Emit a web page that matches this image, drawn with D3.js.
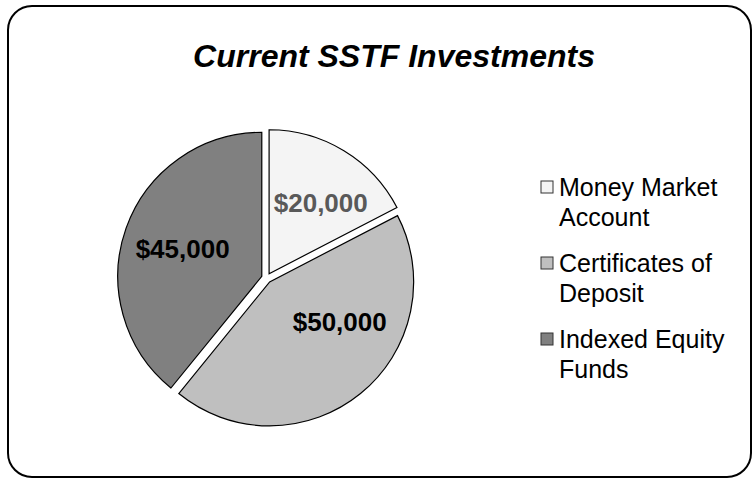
<!DOCTYPE html>
<html lang="en">
  <head>
    <meta charset="utf-8">
    <title>Current SSTF Investments</title>
    <style>
      body { margin: 0; background: #fff; }
      svg { display: block; font-family: "Liberation Sans", Arial, sans-serif; }
    </style>
  </head>
  <body>
    <script src="https://d3js.org/d3.v7.min.js"></script>
    <script>
    // chart data
    const categories = ["Money Market Account", "Certificates of Deposit", "Indexed Equity Funds"]
    const amounts = [20000, 50000, 45000]
    const legendLines = [["Money Market", "Account"], ["Certificates of", "Deposit"], ["Indexed Equity", "Funds"]]
    const fills = ["#f4f4f4", "#bfbfbf", "#808080"]
    const labelColors = ["#595959", "#000", "#000"]

    const w = 752
    const h = 479
    const cx = 266.5, cy = 278   // pie centre
    const r = 144
    const explode = 5

    const svg = d3.select("body").append("svg")
      .attr("width", w)
      .attr("height", h)

    // outer frame
    svg.append("rect")
      .attr("x", 8).attr("y", 6)
      .attr("width", 743).attr("height", 471)
      .attr("rx", 24)
      .attr("fill", "#fff")
      .attr("stroke", "#000")
      .attr("stroke-width", 2)

    svg.append("text")
      .attr("x", 394).attr("y", 67)
      .attr("text-anchor", "middle")
      .style("font-size", "32px")
      .style("font-weight", "bold")
      .style("font-style", "italic")
      .text("Current SSTF Investments")

    const data = categories.map((c, i) => ({ name: c, value: amounts[i], i }))

    const pie = d3.pie().sort(null).value(d => d.value)
    const arcs = pie(data)
    const arc = d3.arc().innerRadius(0).outerRadius(r)

    // label placement within each slice (fraction of the slice angle, distance from centre)
    const labelPos = [[0.57, 93], [0.37, 85], [0.5, 89]]

    const slices = svg.append("g")
      .attr("transform", `translate(${cx},${cy})`)
      .selectAll("g")
      .data(arcs)
      .join("g")
      .attr("transform", d => {
        const a = (d.startAngle + d.endAngle) / 2
        return `translate(${explode * Math.sin(a)},${-explode * Math.cos(a)})`
      })

    slices.append("path")
      .attr("d", arc)
      .attr("fill", d => fills[d.data.i])
      .attr("stroke", "#000")
      .attr("stroke-width", 1.2)

    svg.append("g")
      .attr("transform", `translate(${cx},${cy})`)
      .selectAll("text")
      .data(arcs)
      .join("text")
      .attr("x", d => {
        const p = labelPos[d.data.i]
        const a = d.startAngle + (d.endAngle - d.startAngle) * p[0]
        return p[1] * Math.sin(a)
      })
      .attr("y", d => {
        const p = labelPos[d.data.i]
        const a = d.startAngle + (d.endAngle - d.startAngle) * p[0]
        return -p[1] * Math.cos(a)
      })
      .attr("dy", "0.36em")
      .attr("text-anchor", "middle")
      .style("font-size", "26px")
      .style("font-weight", "bold")
      .attr("fill", d => labelColors[d.data.i])
      .text(d => "$" + d3.format(",")(d.value))

    // legend
    const legend = svg.append("g")
      .attr("transform", "translate(541,0)")
      .selectAll("g")
      .data(data)
      .join("g")
      .attr("transform", (d, i) => `translate(0,${196 + i * 76})`)

    legend.append("rect")
      .attr("x", 0).attr("y", -15)
      .attr("width", 12).attr("height", 12)
      .attr("fill", d => fills[d.i])
      .attr("stroke", "#333")
      .attr("stroke-width", 1)

    legend.append("text")
      .style("font-size", "25px")
      .selectAll("tspan")
      .data(d => legendLines[d.i])
      .join("tspan")
      .attr("x", 18)
      .attr("y", (d, j) => j * 30)
      .text(d => d)
    </script>
  </body>
</html>
